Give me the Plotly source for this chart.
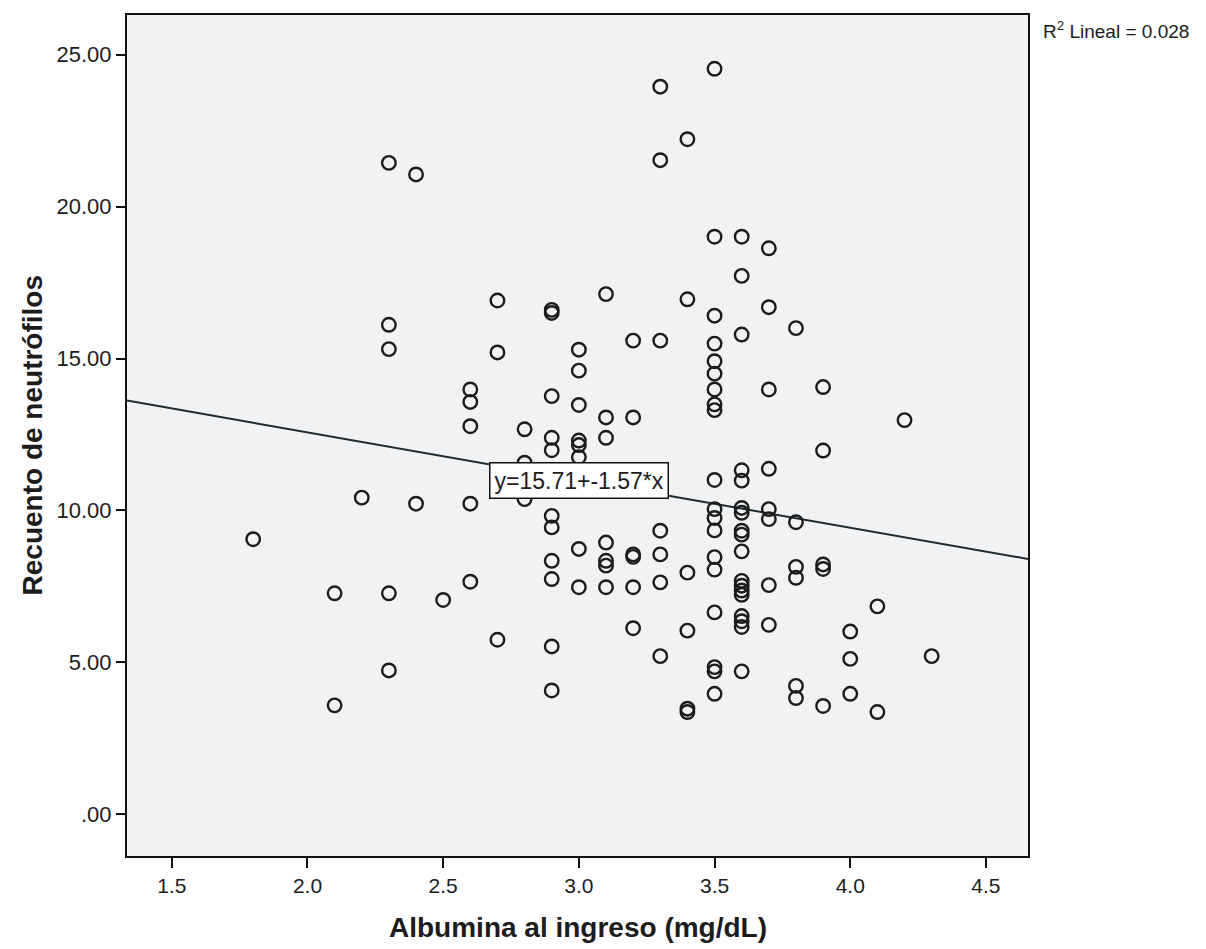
import numpy as np
import plotly.graph_objects as go

# ---- data ----
alb_groups = [1.8, 2.1, 2.2, 2.3, 2.4, 2.5, 2.6, 2.7, 2.8, 2.9, 3.0, 3.1, 3.2, 3.3,
              3.4, 3.5, 3.6, 3.7, 3.8, 3.9, 4.0, 4.1, 4.2, 4.3]
neut_groups = [
    [9.05],
    [7.27, 3.58],
    [10.42],
    [21.44, 16.11, 15.31, 7.27, 4.73],
    [21.06, 10.22],
    [7.05],
    [13.98, 13.57, 12.77, 10.22, 7.65],
    [16.91, 15.20, 5.74],
    [12.67, 11.57, 10.37],
    [16.50, 16.60, 13.76, 12.39, 11.98, 9.82, 9.44, 8.34, 7.74, 5.52, 4.07],
    [15.29, 14.60, 13.47, 12.30, 12.15, 11.75, 8.73, 7.47],
    [17.12, 13.06, 12.39, 8.94, 8.34, 8.18, 7.47],
    [15.59, 13.06, 8.55, 8.47, 7.47, 6.12],
    [23.95, 21.53, 15.59, 9.33, 8.55, 7.63, 5.20],
    [22.22, 16.95, 7.95, 6.04, 3.47, 3.36],
    [24.54, 19.01, 16.41, 15.49, 14.91, 14.50, 13.98, 13.49, 13.30, 11.00,
     10.04, 9.75, 9.34, 8.46, 8.05, 6.64, 4.84, 4.70, 3.96],
    [19.01, 17.72, 15.79, 11.32, 10.98, 10.08, 9.92, 9.33, 9.20, 8.65, 7.68,
     7.52, 7.36, 7.22, 6.52, 6.35, 6.16, 4.70],
    [18.63, 16.69, 13.98, 11.37, 10.04, 9.71, 7.54, 6.23],
    [16.00, 9.61, 8.14, 7.78, 4.22, 3.82],
    [14.06, 11.97, 8.22, 8.07, 3.56],
    [6.01, 5.11, 3.96],
    [6.84, 3.36],
    [12.97],
    [5.20],
]

intercept = 15.71
slope = -1.57
r2 = 0.028

x_ticks = [1.5, 2.0, 2.5, 3.0, 3.5, 4.0, 4.5]
x_tick_labels = ["1.5", "2.0", "2.5", "3.0", "3.5", "4.0", "4.5"]
y_ticks = [0, 5, 10, 15, 20, 25]
y_tick_labels = [".00", "5.00", "10.00", "15.00", "20.00", "25.00"]

x_range = [1.335, 4.655]
y_range = [-1.38, 26.31]

# ---- build points ----
xs, ys = [], []
for a, vals in zip(alb_groups, neut_groups):
    for v in vals:
        xs.append(a)
        ys.append(v)

font_main = "Liberation Sans, Arial, sans-serif"
ink = "#1c1c1c"

fig = go.Figure()

line_x = np.array(x_range)
line_y = intercept + slope * line_x
fig.add_trace(go.Scatter(
    x=line_x, y=line_y, mode="lines",
    line=dict(color="#1e2a30", width=2),
    hoverinfo="skip", showlegend=False,
))

fig.add_trace(go.Scatter(
    x=xs, y=ys, mode="markers",
    marker=dict(symbol="circle-open", size=13.5, color=ink, line=dict(width=2.4, color=ink)),
    showlegend=False,
))

# page body has an 8px default margin: figure is sized/offset to compensate
fig.update_layout(
    width=1198, height=941,
    margin=dict(l=119, r=178, t=5, b=93),
    paper_bgcolor="white",
    plot_bgcolor="#f0f2f4",
    font=dict(family=font_main, color=ink),
    xaxis=dict(
        range=x_range, tickvals=x_ticks, ticktext=x_tick_labels,
        showgrid=False, zeroline=False,
        showline=True, linecolor="#111", linewidth=2, mirror=True,
        ticks="outside", ticklen=10, tickwidth=2, tickcolor="#111",
        tickfont=dict(size=21, family=font_main, color=ink),
    ),
    yaxis=dict(
        range=y_range, tickvals=y_ticks, ticktext=y_tick_labels,
        showgrid=False, zeroline=False,
        showline=True, linecolor="#111", linewidth=2, mirror=True,
        ticks="outside", ticklen=9, tickwidth=2, tickcolor="#111",
        tickfont=dict(size=22, family=font_main, color=ink),
    ),
    annotations=[
        dict(text="<b>Albumina al ingreso (mg/dL)</b>", xref="paper", yref="paper",
             x=0.5, y=-0.0854, xanchor="center", yanchor="middle", showarrow=False,
             font=dict(size=28, family=font_main, color=ink)),
        dict(text="<b>Recuento de neutrófilos</b>", xref="paper", yref="paper",
             x=-0.1044, y=0.5, xanchor="center", yanchor="middle", showarrow=False,
             textangle=-90, font=dict(size=28, family=font_main, color=ink)),
        dict(text="R<sup>2</sup> Lineal = %.3f" % r2, xref="paper", yref="paper",
             x=1.0144, y=0.982, xanchor="left", yanchor="middle", showarrow=False,
             font=dict(size=19, family=font_main, color=ink)),
        dict(text="y=%.2f+%.2f*x" % (intercept, slope), xref="x", yref="y",
             x=3.0, y=10.98, xanchor="center", yanchor="middle", showarrow=False,
             bgcolor="white", bordercolor="#111", borderwidth=1.5, borderpad=4,
             font=dict(size=23, family=font_main, color=ink)),
    ],
)

fig.write_html("out.html")
